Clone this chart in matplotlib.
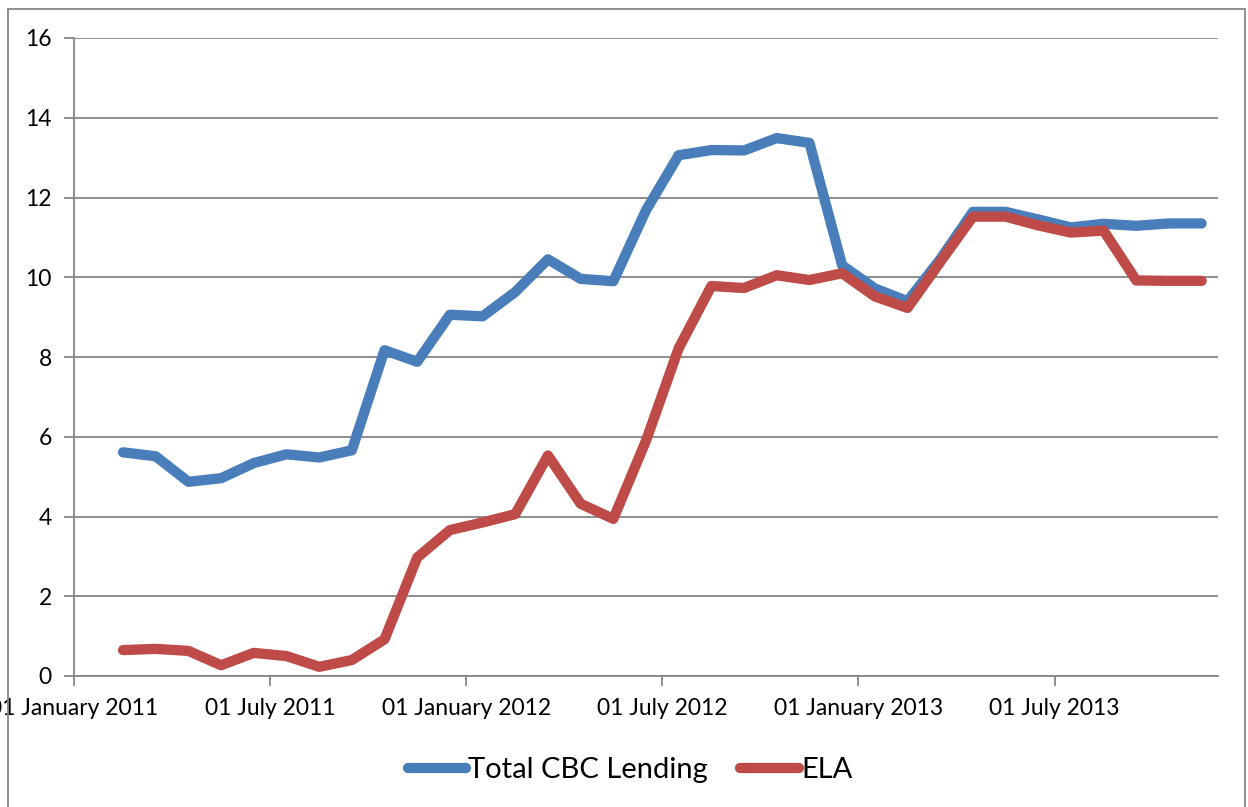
import matplotlib
matplotlib.use("Agg")
import matplotlib.pyplot as plt
from matplotlib.patches import Rectangle

# Monthly data, Feb 2011 .. Nov 2013 (EUR bn)
months = ["Feb 2011", "Mar 2011", "Apr 2011", "May 2011", "Jun 2011", "Jul 2011",
          "Aug 2011", "Sep 2011", "Oct 2011", "Nov 2011", "Dec 2011", "Jan 2012",
          "Feb 2012", "Mar 2012", "Apr 2012", "May 2012", "Jun 2012", "Jul 2012",
          "Aug 2012", "Sep 2012", "Oct 2012", "Nov 2012", "Dec 2012", "Jan 2013",
          "Feb 2013", "Mar 2013", "Apr 2013", "May 2013", "Jun 2013", "Jul 2013",
          "Aug 2013", "Sep 2013", "Oct 2013", "Nov 2013"]
total_cbc = [5.61, 5.51, 4.87, 4.96, 5.34, 5.56, 5.48, 5.66, 8.17, 7.88,
             9.06, 9.02, 9.63, 10.45, 9.96, 9.90, 11.68, 13.06, 13.19, 13.18,
             13.49, 13.37, 10.30, 9.72, 9.40, 10.45, 11.64, 11.64, 11.45, 11.25,
             11.34, 11.29, 11.35, 11.35]
ela = [0.65, 0.68, 0.63, 0.27, 0.58, 0.50, 0.23, 0.40, 0.92, 2.97,
       3.66, 3.85, 4.06, 5.53, 4.32, 3.94, 5.90, 8.22, 9.78, 9.73,
       10.05, 9.93, 10.10, 9.52, 9.23, 10.38, 11.52, 11.52, 11.30, 11.12,
       11.17, 9.92, 9.91, 9.91]
tick_labels = ["01 January 2011", "01 July 2011", "01 January 2012",
               "01 July 2012", "01 January 2013", "01 July 2013"]
tick_months = [0, 6, 12, 18, 24, 30]  # month offsets from Jan 2011
first_month_offset = 1  # Feb 2011

plt.rcParams['font.family'] = ['Lato', 'DejaVu Sans']

fig = plt.figure(figsize=(12.48, 8.07), dpi=100)
ax = fig.add_axes([74/1248, 1-676/807, (1218-74)/1248, (676-38)/807])

x = [first_month_offset + i + 0.5 for i in range(len(months))]
blue = "#4A7EBB"
red = "#BE4B48"
ax.plot(x, total_cbc, color=blue, lw=7.4, solid_capstyle='round',
        solid_joinstyle='round', label="Total CBC Lending", zorder=3)
ax.plot(x, ela, color=red, lw=7.4, solid_capstyle='round',
        solid_joinstyle='round', label="ELA", zorder=4)

ax.set_xlim(0, 35)
ax.set_ylim(0, 16)
ax.set_yticks(range(0, 17, 2))
ax.set_xticks(tick_months)
ax.set_xticklabels(tick_labels)
ax.grid(axis='y', color='#868686', lw=1.3)
ax.set_axisbelow(True)
for s in ['top', 'right']:
    ax.spines[s].set_visible(False)
for s in ['left', 'bottom']:
    ax.spines[s].set_color('#868686')
    ax.spines[s].set_linewidth(1.3)
ax.tick_params(axis='both', colors='#868686', length=7, width=1.3,
               labelcolor='black', labelsize=16.5)
ax.tick_params(axis='x', pad=9)
ax.tick_params(axis='y', pad=9)

leg = fig.legend(loc='center', bbox_to_anchor=(630/1248, 1-770/807), ncol=2,
                 frameon=False, fontsize=21, handlelength=2.0,
                 handletextpad=0.08, columnspacing=1.1)
for line in leg.get_lines():
    line.set_solid_capstyle('round')

# outer chart border
fig.patches.append(Rectangle((8/1248, -0.05), (1245-8)/1248, 1.05 - 9/807,
                             transform=fig.transFigure, fill=False,
                             edgecolor='#868686', lw=1.3))

fig.savefig("out.png", dpi=100)
